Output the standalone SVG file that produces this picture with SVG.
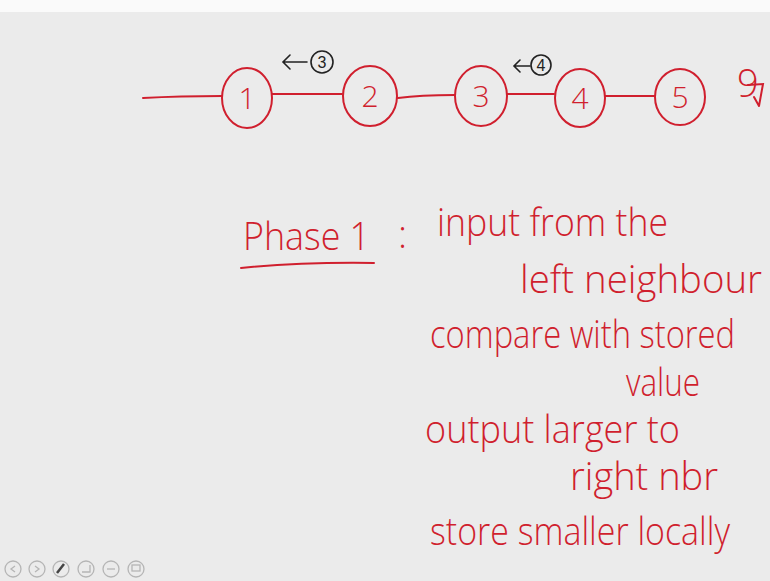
<svg xmlns="http://www.w3.org/2000/svg" width="770" height="581" viewBox="0 0 770 581">
<style>
.bg{fill:#ebebeb}
.node{fill:none;stroke:#d01f2e;stroke-width:2}
.edge{fill:none;stroke:#d01f2e;stroke-width:2;stroke-linecap:round}
.lbl{font-family:"Open Sans","Liberation Sans",Arial,sans-serif;font-weight:300;font-size:30px;fill:#d01f2e;text-anchor:middle}
.ink{font-family:"Open Sans","Liberation Sans",Arial,sans-serif;font-weight:300;font-size:38px;fill:#d01f2e}
.blk{fill:none;stroke:#222;stroke-width:1.6;stroke-linecap:round}
.btxt{font-family:"Liberation Sans",Arial,sans-serif;font-size:16px;fill:#222;text-anchor:middle}
.ic{fill:none;stroke:#b5b5b5;stroke-width:1.3}
</style>
<rect class="bg" x="0" y="0" width="770" height="581"/>
<rect x="0" y="0" width="770" height="12" fill="#fafafa"/>
<g id="connectors">
<path class="edge" d="M143 98 Q180 96 222 96"/>
<path class="edge" d="M272 94 L342 94"/>
<path class="edge" d="M398 98 Q420 95 455 95"/>
<path class="edge" d="M507 94 L554 94"/>
<path class="edge" d="M605 96 L655 96"/>
</g>
<g id="node1"><ellipse class="node" cx="247" cy="98" rx="25" ry="30"/><text class="lbl" x="247" y="109">1</text></g>
<g id="node2"><ellipse class="node" cx="370" cy="96" rx="27" ry="30"/><text class="lbl" x="370" y="107">2</text></g>
<g id="node3"><ellipse class="node" cx="481" cy="96" rx="26" ry="30"/><text class="lbl" x="481" y="107">3</text></g>
<g id="node4"><ellipse class="node" cx="580" cy="98" rx="25" ry="29"/><text class="lbl" x="580" y="109">4</text></g>
<g id="node5"><ellipse class="node" cx="680" cy="97" rx="25" ry="28"/><text class="lbl" x="680" y="108">5</text></g>
<g id="msg3">
<path class="blk" d="M307 62 L283 62 M290 55 L283 62 L290 69"/>
<circle class="blk" cx="322" cy="62" r="11"/>
<text class="btxt" x="322" y="68">3</text>
</g>
<g id="msg4">
<path class="blk" d="M530 66 L514 66 M520 60 L514 66 L520 72"/>
<circle class="blk" cx="541" cy="65" r="10"/>
<text class="btxt" x="541" y="71">4</text>
</g>
<g id="mark9">
<text class="ink" x="737" y="97" font-size="22">9</text>
<path class="edge" d="M748 85 L763 84 L759 106 M754 97 L759 106"/>
</g>
<g id="text">
<text class="ink" x="243" y="250" textLength="127" lengthAdjust="spacingAndGlyphs">Phase 1</text>
<path class="edge" d="M241 268 Q300 262 374 263"/>
<text class="ink" x="398" y="248">:</text>
<text class="ink" x="437" y="236" textLength="231" lengthAdjust="spacingAndGlyphs">input from the</text>
<text class="ink" x="520" y="293" textLength="242" lengthAdjust="spacingAndGlyphs">left neighbour</text>
<text class="ink" x="430" y="348" font-size="35" textLength="305" lengthAdjust="spacingAndGlyphs">compare with stored</text>
<text class="ink" x="626" y="396" font-size="32" textLength="74" lengthAdjust="spacingAndGlyphs">value</text>
<text class="ink" x="425" y="443" textLength="255" lengthAdjust="spacingAndGlyphs">output larger to</text>
<text class="ink" x="570" y="490" textLength="148" lengthAdjust="spacingAndGlyphs">right nbr</text>
<text class="ink" x="430" y="545" textLength="300" lengthAdjust="spacingAndGlyphs">store smaller locally</text>
</g>
<g id="toolbar">
<circle class="ic" cx="13" cy="569" r="8"/><path class="ic" d="M15 566 L11 569 L15 572"/>
<circle class="ic" cx="37" cy="569" r="8"/><path class="ic" d="M35 566 L39 569 L35 572"/>
<circle class="ic" cx="61" cy="569" r="8"/><path d="M57 573 L64 564" stroke="#444" stroke-width="2.5"/>
<circle class="ic" cx="86" cy="569" r="8"/><path class="ic" d="M82 572 L90 572 L90 565"/>
<circle class="ic" cx="111" cy="569" r="8"/><path class="ic" d="M107 569 L115 569"/>
<circle class="ic" cx="136" cy="569" r="8"/><rect class="ic" x="132" y="565" width="8" height="6"/>
</g>
</svg>
